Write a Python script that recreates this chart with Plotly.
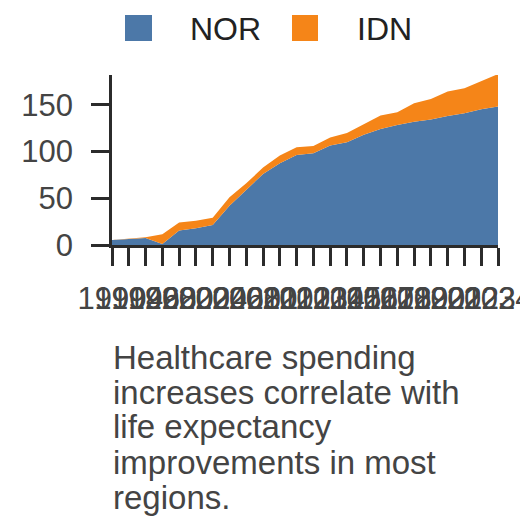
import plotly.graph_objects as go

years = ["1990", "1994", "1996", "1998", "2000", "2002", "2004", "2006", "2008",
         "2010", "2011", "2012", "2013", "2014", "2015", "2016", "2017", "2018",
         "2019", "2020", "2021", "2022", "2023", "2024"]
nor = [5.4, 6.4, 7.5, 1.0, 15.4, 17.9, 21.4, 42.0, 59.0, 76.0, 87.5, 96.4,
       98.2, 106.4, 110.0, 117.9, 124.3, 128.6, 132.0, 134.3, 138.2, 141.0, 145.4, 148.2]
idn_years = years[2:]
idn = [0.7, 10.4, 8.6, 8.1, 7.9, 9.0, 7.0, 7.0, 8.2, 8.2, 7.8, 8.6, 10.0,
       11.4, 14.3, 13.4, 19.8, 22.1, 26.1, 26.9, 29.6, 34.8]
y_ticks = [0, 50, 100, 150]
caption_lines = ["Healthcare spending", "increases correlate with", "life expectancy",
                 "improvements in most", "regions."]

BLUE = "#4c78a8"
ORANGE = "#f58518"
AXIS = "#2b2b2b"
FONT = "Liberation Sans, Arial, sans-serif"
OFF = 8  # page body margin offset

fig = go.Figure()
fig.add_trace(go.Scatter(x=years, y=nor, name="NOR", stackgroup="one", mode="lines",
                         line=dict(width=0, color=BLUE), fillcolor=BLUE, showlegend=False))
fig.add_trace(go.Scatter(x=idn_years, y=idn, name="IDN", stackgroup="one", mode="lines",
                         line=dict(width=0, color=ORANGE), fillcolor=ORANGE, showlegend=False))

# target screen pixels of plot area
SX0, SX1, SY0, SY1 = 112, 498, 75, 245
L = SX0 - OFF
T = SY0 - OFF
R = 528 - (SX1 - OFF)
B = 528 - (SY1 - OFF)
W = SX1 - SX0
H = SY1 - SY0

def px_x(p):
    return (p - SX0) / W

def px_y(p):
    return (SY1 - p) / H

shapes = [
    dict(type="rect", xref="paper", yref="paper", x0=px_x(125), x1=px_x(152),
         y0=px_y(41), y1=px_y(15), fillcolor=BLUE, line=dict(width=0)),
    dict(type="rect", xref="paper", yref="paper", x0=px_x(292), x1=px_x(318),
         y0=px_y(41), y1=px_y(15), fillcolor=ORANGE, line=dict(width=0)),
]
annotations = [
    dict(text="NOR", xref="paper", yref="paper", x=px_x(188), y=px_y(29),
         xanchor="left", yanchor="middle", showarrow=False,
         font=dict(size=32, color="#222", family=FONT)),
    dict(text="IDN", xref="paper", yref="paper", x=px_x(355), y=px_y(29),
         xanchor="left", yanchor="middle", showarrow=False,
         font=dict(size=32, color="#222", family=FONT)),
]
for i, line in enumerate(caption_lines):
    baseline = 368 + 35 * i
    annotations.append(dict(text=line, xref="paper", yref="paper", x=px_x(111),
                            y=px_y(baseline - 11), xanchor="left", yanchor="middle",
                            align="left", showarrow=False,
                            font=dict(size=33, color="#444", family=FONT)))

fig.update_layout(
    width=528, height=528,
    margin=dict(l=L, r=R, t=T, b=B, autoexpand=False),
    paper_bgcolor="white", plot_bgcolor="white",
    showlegend=False,
    shapes=shapes, annotations=annotations,
    font=dict(family=FONT, color="#444"),
)
fig.update_xaxes(type="category", categoryorder="array", categoryarray=years,
                 tickmode="array", tickvals=years, ticktext=years,
                 range=[0, len(years) - 1], showline=True, linewidth=2.5, linecolor=AXIS,
                 ticks="outside", ticklen=18, tickwidth=2.5, tickcolor=AXIS,
                 tickangle=0, showgrid=False, zeroline=False, automargin=False,
                 ticklabeloverflow="allow",
                 tickfont=dict(size=31, color="#444", family=FONT), ticklabelstandoff=6)
fig.update_yaxes(range=[0, 182], tickvals=y_ticks, showline=True, linewidth=2.5,
                 linecolor=AXIS, ticks="outside", ticklen=18, tickwidth=2.5, tickcolor=AXIS,
                 showgrid=False, zeroline=False, automargin=False,
                 tickfont=dict(size=31, color="#444", family=FONT), ticklabelstandoff=12)

fig.write_html("out.html")
